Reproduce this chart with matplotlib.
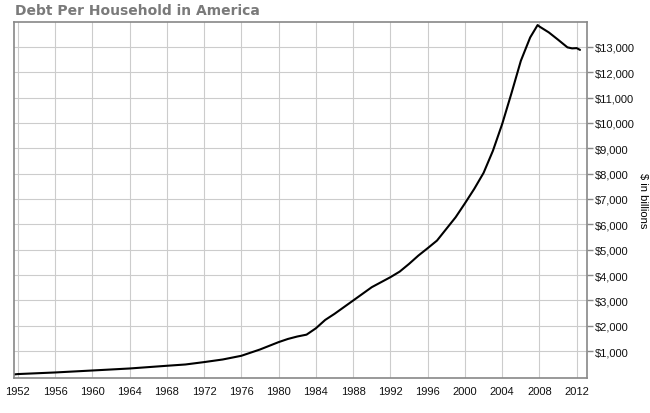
import matplotlib
matplotlib.use("Agg")
import matplotlib.pyplot as plt
from matplotlib.ticker import FuncFormatter

# debt per household
years = [1951.6, 1952, 1956, 1960, 1964, 1968, 1970, 1972, 1974, 1976, 1978,
         1980, 1981, 1982, 1983, 1984, 1985, 1986, 1988, 1990, 1992, 1993,
         1994, 1995, 1996, 1997, 1998, 1999, 2000, 2001, 2002, 2003, 2004,
         2005, 2006, 2007, 2007.8, 2008, 2009, 2010, 2011, 2011.5, 2012,
         2012.35]
debt = [80, 95, 158, 236, 315, 422, 473, 567, 670, 816, 1064,
        1355, 1480, 1576, 1650, 1900, 2230, 2470, 2995, 3522, 3916, 4137,
        4440, 4768, 5060, 5360, 5820, 6280, 6830, 7400, 8030, 8900, 9960,
        11180, 12450, 13370, 13860, 13800, 13570, 13280, 12980, 12940, 12950,
        12880]

xticks = list(range(1952, 2013, 4))
yticks = list(range(1000, 13001, 1000))

fig = plt.figure(figsize=(6.5, 4.14), dpi=100)
ax = fig.add_axes([14/650, 35/414, 573/650, 356/414])

ax.plot(years, debt, color="black", lw=1.5, solid_capstyle="round",
        solid_joinstyle="round")

ax.set_xlim(1951.6, 2013.1)
ax.set_ylim(-60, 13980)
ax.set_xticks(xticks)
ax.set_yticks(yticks)
ax.yaxis.set_major_formatter(FuncFormatter(lambda v, p: "${:,.0f}".format(v)))
ax.yaxis.tick_right()
ax.yaxis.set_label_position("right")

ax.grid(True, color="#cccccc", lw=0.8)
ax.set_axisbelow(True)
for s in ax.spines.values():
    s.set_color("#888888")
    s.set_linewidth(1.2)

ax.tick_params(axis="x", length=0, pad=6, labelsize=8, labelcolor="#111111")
ax.tick_params(axis="y", length=4, width=1, color="#888888", pad=2,
               labelsize=8, labelcolor="#111111")
for lab in ax.get_xticklabels() + ax.get_yticklabels():
    lab.set_family("Liberation Sans")

ax.set_ylabel("$ in billions", rotation=270, labelpad=9, fontsize=8,
              family="Liberation Sans")

fig.text(15/650, 1 - 11/414, "Debt Per Household in America", fontsize=10,
         fontweight="bold", color="#7a7a7a", va="center", ha="left",
         family="DejaVu Sans")

fig.savefig("out.png", dpi=100)
